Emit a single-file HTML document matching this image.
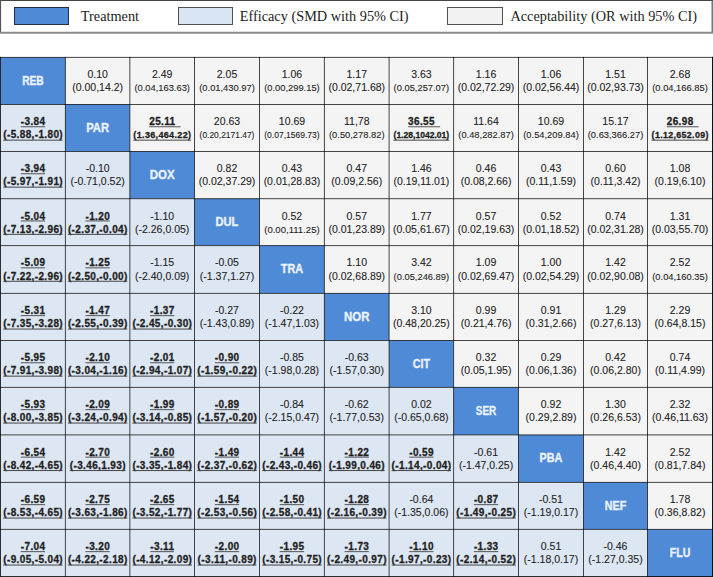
<!DOCTYPE html>
<html><head><meta charset="utf-8"><style>
html,body{margin:0;padding:0;background:#fff;width:713px;height:577px;overflow:hidden;position:relative;font-family:"Liberation Sans",sans-serif;}
</style></head><body>
<svg width="713" height="577" viewBox="0 0 713 577" style="position:absolute;left:0;top:0"><rect x="0" y="0" width="713" height="34" fill="#FFFFFF"/><line x1="0" y1="0.5" x2="713" y2="0.5" stroke="#444" stroke-width="1.2"/><line x1="0.5" y1="0" x2="0.5" y2="33" stroke="#555" stroke-width="1.2"/><line x1="712.2" y1="0" x2="712.2" y2="33" stroke="#555" stroke-width="1.2"/><line x1="0" y1="32.8" x2="713" y2="32.8" stroke="#8C8C8C" stroke-width="2"/><rect x="14.5" y="7.5" width="54" height="17" fill="#4F8AD6" stroke="#1F2F4A" stroke-width="1"/><rect x="178.5" y="7.5" width="54" height="17" fill="#DAE5F3" stroke="#505050" stroke-width="1"/><rect x="447.5" y="7.5" width="55" height="17" fill="#F2F2F2" stroke="#505050" stroke-width="1"/><text x="80.8" y="21" font-family="Liberation Serif" font-size="14.3" fill="#222">Treatment</text><text x="239.7" y="21" font-family="Liberation Serif" font-size="14.3" fill="#222">Efficacy (SMD with 95% CI)</text><text x="510.4" y="21" font-family="Liberation Serif" font-size="14.3" fill="#222">Acceptability (OR with 95% CI)</text><rect x="0.50" y="57.40" width="64.90" height="47.10" fill="#4F8AD6"/><rect x="65.40" y="57.40" width="64.45" height="47.10" fill="#F4F4F4"/><rect x="129.85" y="57.40" width="64.65" height="47.10" fill="#F4F4F4"/><rect x="194.50" y="57.40" width="65.00" height="47.10" fill="#F4F4F4"/><rect x="259.50" y="57.40" width="64.90" height="47.10" fill="#F4F4F4"/><rect x="324.40" y="57.40" width="64.70" height="47.10" fill="#F4F4F4"/><rect x="389.10" y="57.40" width="64.50" height="47.10" fill="#F4F4F4"/><rect x="453.60" y="57.40" width="64.90" height="47.10" fill="#F4F4F4"/><rect x="518.50" y="57.40" width="65.00" height="47.10" fill="#F4F4F4"/><rect x="583.50" y="57.40" width="64.00" height="47.10" fill="#F4F4F4"/><rect x="647.50" y="57.40" width="65.00" height="47.10" fill="#F4F4F4"/><rect x="0.50" y="104.50" width="64.90" height="47.00" fill="#DDE7F3"/><rect x="65.40" y="104.50" width="64.45" height="47.00" fill="#4F8AD6"/><rect x="129.85" y="104.50" width="64.65" height="47.00" fill="#F4F4F4"/><rect x="194.50" y="104.50" width="65.00" height="47.00" fill="#F4F4F4"/><rect x="259.50" y="104.50" width="64.90" height="47.00" fill="#F4F4F4"/><rect x="324.40" y="104.50" width="64.70" height="47.00" fill="#F4F4F4"/><rect x="389.10" y="104.50" width="64.50" height="47.00" fill="#F4F4F4"/><rect x="453.60" y="104.50" width="64.90" height="47.00" fill="#F4F4F4"/><rect x="518.50" y="104.50" width="65.00" height="47.00" fill="#F4F4F4"/><rect x="583.50" y="104.50" width="64.00" height="47.00" fill="#F4F4F4"/><rect x="647.50" y="104.50" width="65.00" height="47.00" fill="#F4F4F4"/><rect x="0.50" y="151.50" width="64.90" height="47.20" fill="#DDE7F3"/><rect x="65.40" y="151.50" width="64.45" height="47.20" fill="#DDE7F3"/><rect x="129.85" y="151.50" width="64.65" height="47.20" fill="#4F8AD6"/><rect x="194.50" y="151.50" width="65.00" height="47.20" fill="#F4F4F4"/><rect x="259.50" y="151.50" width="64.90" height="47.20" fill="#F4F4F4"/><rect x="324.40" y="151.50" width="64.70" height="47.20" fill="#F4F4F4"/><rect x="389.10" y="151.50" width="64.50" height="47.20" fill="#F4F4F4"/><rect x="453.60" y="151.50" width="64.90" height="47.20" fill="#F4F4F4"/><rect x="518.50" y="151.50" width="65.00" height="47.20" fill="#F4F4F4"/><rect x="583.50" y="151.50" width="64.00" height="47.20" fill="#F4F4F4"/><rect x="647.50" y="151.50" width="65.00" height="47.20" fill="#F4F4F4"/><rect x="0.50" y="198.70" width="64.90" height="46.90" fill="#DDE7F3"/><rect x="65.40" y="198.70" width="64.45" height="46.90" fill="#DDE7F3"/><rect x="129.85" y="198.70" width="64.65" height="46.90" fill="#DDE7F3"/><rect x="194.50" y="198.70" width="65.00" height="46.90" fill="#4F8AD6"/><rect x="259.50" y="198.70" width="64.90" height="46.90" fill="#F4F4F4"/><rect x="324.40" y="198.70" width="64.70" height="46.90" fill="#F4F4F4"/><rect x="389.10" y="198.70" width="64.50" height="46.90" fill="#F4F4F4"/><rect x="453.60" y="198.70" width="64.90" height="46.90" fill="#F4F4F4"/><rect x="518.50" y="198.70" width="65.00" height="46.90" fill="#F4F4F4"/><rect x="583.50" y="198.70" width="64.00" height="46.90" fill="#F4F4F4"/><rect x="647.50" y="198.70" width="65.00" height="46.90" fill="#F4F4F4"/><rect x="0.50" y="245.60" width="64.90" height="47.80" fill="#DDE7F3"/><rect x="65.40" y="245.60" width="64.45" height="47.80" fill="#DDE7F3"/><rect x="129.85" y="245.60" width="64.65" height="47.80" fill="#DDE7F3"/><rect x="194.50" y="245.60" width="65.00" height="47.80" fill="#DDE7F3"/><rect x="259.50" y="245.60" width="64.90" height="47.80" fill="#4F8AD6"/><rect x="324.40" y="245.60" width="64.70" height="47.80" fill="#F4F4F4"/><rect x="389.10" y="245.60" width="64.50" height="47.80" fill="#F4F4F4"/><rect x="453.60" y="245.60" width="64.90" height="47.80" fill="#F4F4F4"/><rect x="518.50" y="245.60" width="65.00" height="47.80" fill="#F4F4F4"/><rect x="583.50" y="245.60" width="64.00" height="47.80" fill="#F4F4F4"/><rect x="647.50" y="245.60" width="65.00" height="47.80" fill="#F4F4F4"/><rect x="0.50" y="293.40" width="64.90" height="47.10" fill="#DDE7F3"/><rect x="65.40" y="293.40" width="64.45" height="47.10" fill="#DDE7F3"/><rect x="129.85" y="293.40" width="64.65" height="47.10" fill="#DDE7F3"/><rect x="194.50" y="293.40" width="65.00" height="47.10" fill="#DDE7F3"/><rect x="259.50" y="293.40" width="64.90" height="47.10" fill="#DDE7F3"/><rect x="324.40" y="293.40" width="64.70" height="47.10" fill="#4F8AD6"/><rect x="389.10" y="293.40" width="64.50" height="47.10" fill="#F4F4F4"/><rect x="453.60" y="293.40" width="64.90" height="47.10" fill="#F4F4F4"/><rect x="518.50" y="293.40" width="65.00" height="47.10" fill="#F4F4F4"/><rect x="583.50" y="293.40" width="64.00" height="47.10" fill="#F4F4F4"/><rect x="647.50" y="293.40" width="65.00" height="47.10" fill="#F4F4F4"/><rect x="0.50" y="340.50" width="64.90" height="46.90" fill="#DDE7F3"/><rect x="65.40" y="340.50" width="64.45" height="46.90" fill="#DDE7F3"/><rect x="129.85" y="340.50" width="64.65" height="46.90" fill="#DDE7F3"/><rect x="194.50" y="340.50" width="65.00" height="46.90" fill="#DDE7F3"/><rect x="259.50" y="340.50" width="64.90" height="46.90" fill="#DDE7F3"/><rect x="324.40" y="340.50" width="64.70" height="46.90" fill="#DDE7F3"/><rect x="389.10" y="340.50" width="64.50" height="46.90" fill="#4F8AD6"/><rect x="453.60" y="340.50" width="64.90" height="46.90" fill="#F4F4F4"/><rect x="518.50" y="340.50" width="65.00" height="46.90" fill="#F4F4F4"/><rect x="583.50" y="340.50" width="64.00" height="46.90" fill="#F4F4F4"/><rect x="647.50" y="340.50" width="65.00" height="46.90" fill="#F4F4F4"/><rect x="0.50" y="387.40" width="64.90" height="47.50" fill="#DDE7F3"/><rect x="65.40" y="387.40" width="64.45" height="47.50" fill="#DDE7F3"/><rect x="129.85" y="387.40" width="64.65" height="47.50" fill="#DDE7F3"/><rect x="194.50" y="387.40" width="65.00" height="47.50" fill="#DDE7F3"/><rect x="259.50" y="387.40" width="64.90" height="47.50" fill="#DDE7F3"/><rect x="324.40" y="387.40" width="64.70" height="47.50" fill="#DDE7F3"/><rect x="389.10" y="387.40" width="64.50" height="47.50" fill="#DDE7F3"/><rect x="453.60" y="387.40" width="64.90" height="47.50" fill="#4F8AD6"/><rect x="518.50" y="387.40" width="65.00" height="47.50" fill="#F4F4F4"/><rect x="583.50" y="387.40" width="64.00" height="47.50" fill="#F4F4F4"/><rect x="647.50" y="387.40" width="65.00" height="47.50" fill="#F4F4F4"/><rect x="0.50" y="434.90" width="64.90" height="47.50" fill="#DDE7F3"/><rect x="65.40" y="434.90" width="64.45" height="47.50" fill="#DDE7F3"/><rect x="129.85" y="434.90" width="64.65" height="47.50" fill="#DDE7F3"/><rect x="194.50" y="434.90" width="65.00" height="47.50" fill="#DDE7F3"/><rect x="259.50" y="434.90" width="64.90" height="47.50" fill="#DDE7F3"/><rect x="324.40" y="434.90" width="64.70" height="47.50" fill="#DDE7F3"/><rect x="389.10" y="434.90" width="64.50" height="47.50" fill="#DDE7F3"/><rect x="453.60" y="434.90" width="64.90" height="47.50" fill="#DDE7F3"/><rect x="518.50" y="434.90" width="65.00" height="47.50" fill="#4F8AD6"/><rect x="583.50" y="434.90" width="64.00" height="47.50" fill="#F4F4F4"/><rect x="647.50" y="434.90" width="65.00" height="47.50" fill="#F4F4F4"/><rect x="0.50" y="482.40" width="64.90" height="47.00" fill="#DDE7F3"/><rect x="65.40" y="482.40" width="64.45" height="47.00" fill="#DDE7F3"/><rect x="129.85" y="482.40" width="64.65" height="47.00" fill="#DDE7F3"/><rect x="194.50" y="482.40" width="65.00" height="47.00" fill="#DDE7F3"/><rect x="259.50" y="482.40" width="64.90" height="47.00" fill="#DDE7F3"/><rect x="324.40" y="482.40" width="64.70" height="47.00" fill="#DDE7F3"/><rect x="389.10" y="482.40" width="64.50" height="47.00" fill="#DDE7F3"/><rect x="453.60" y="482.40" width="64.90" height="47.00" fill="#DDE7F3"/><rect x="518.50" y="482.40" width="65.00" height="47.00" fill="#DDE7F3"/><rect x="583.50" y="482.40" width="64.00" height="47.00" fill="#4F8AD6"/><rect x="647.50" y="482.40" width="65.00" height="47.00" fill="#F4F4F4"/><rect x="0.50" y="529.40" width="64.90" height="48.10" fill="#DDE7F3"/><rect x="65.40" y="529.40" width="64.45" height="48.10" fill="#DDE7F3"/><rect x="129.85" y="529.40" width="64.65" height="48.10" fill="#DDE7F3"/><rect x="194.50" y="529.40" width="65.00" height="48.10" fill="#DDE7F3"/><rect x="259.50" y="529.40" width="64.90" height="48.10" fill="#DDE7F3"/><rect x="324.40" y="529.40" width="64.70" height="48.10" fill="#DDE7F3"/><rect x="389.10" y="529.40" width="64.50" height="48.10" fill="#DDE7F3"/><rect x="453.60" y="529.40" width="64.90" height="48.10" fill="#DDE7F3"/><rect x="518.50" y="529.40" width="65.00" height="48.10" fill="#DDE7F3"/><rect x="583.50" y="529.40" width="64.00" height="48.10" fill="#DDE7F3"/><rect x="647.50" y="529.40" width="65.00" height="48.10" fill="#4F8AD6"/><line x1="0.50" y1="56.9" x2="0.50" y2="577" stroke="#000" stroke-opacity="0.72" stroke-width="1.0"/><line x1="65.40" y1="56.9" x2="65.40" y2="577" stroke="#000" stroke-opacity="0.72" stroke-width="1.0"/><line x1="129.85" y1="56.9" x2="129.85" y2="577" stroke="#000" stroke-opacity="0.72" stroke-width="1.0"/><line x1="194.50" y1="56.9" x2="194.50" y2="577" stroke="#000" stroke-opacity="0.72" stroke-width="1.0"/><line x1="259.50" y1="56.9" x2="259.50" y2="577" stroke="#000" stroke-opacity="0.72" stroke-width="1.0"/><line x1="324.40" y1="56.9" x2="324.40" y2="577" stroke="#000" stroke-opacity="0.72" stroke-width="1.0"/><line x1="389.10" y1="56.9" x2="389.10" y2="577" stroke="#000" stroke-opacity="0.72" stroke-width="1.0"/><line x1="453.60" y1="56.9" x2="453.60" y2="577" stroke="#000" stroke-opacity="0.72" stroke-width="1.0"/><line x1="518.50" y1="56.9" x2="518.50" y2="577" stroke="#000" stroke-opacity="0.72" stroke-width="1.0"/><line x1="583.50" y1="56.9" x2="583.50" y2="577" stroke="#000" stroke-opacity="0.72" stroke-width="1.0"/><line x1="647.50" y1="56.9" x2="647.50" y2="577" stroke="#000" stroke-opacity="0.72" stroke-width="1.0"/><line x1="712.50" y1="56.9" x2="712.50" y2="577" stroke="#000" stroke-opacity="0.72" stroke-width="1.0"/><line x1="0" y1="576.5" x2="713" y2="576.5" stroke="#000" stroke-opacity="0.8" stroke-width="1"/><line x1="712.5" y1="56.9" x2="712.5" y2="577" stroke="#111" stroke-width="1"/><line x1="0.5" y1="56.9" x2="0.5" y2="577" stroke="#222" stroke-opacity="0.6" stroke-width="1"/><line x1="0" y1="57.40" x2="713" y2="57.40" stroke="#000" stroke-opacity="0.72" stroke-width="1.0"/><line x1="0" y1="104.50" x2="713" y2="104.50" stroke="#000" stroke-opacity="0.72" stroke-width="1.0"/><line x1="0" y1="151.50" x2="713" y2="151.50" stroke="#000" stroke-opacity="0.72" stroke-width="1.0"/><line x1="0" y1="198.70" x2="713" y2="198.70" stroke="#000" stroke-opacity="0.72" stroke-width="1.0"/><line x1="0" y1="245.60" x2="713" y2="245.60" stroke="#000" stroke-opacity="0.72" stroke-width="1.0"/><line x1="0" y1="293.40" x2="713" y2="293.40" stroke="#000" stroke-opacity="0.72" stroke-width="1.0"/><line x1="0" y1="340.50" x2="713" y2="340.50" stroke="#000" stroke-opacity="0.72" stroke-width="1.0"/><line x1="0" y1="387.40" x2="713" y2="387.40" stroke="#000" stroke-opacity="0.72" stroke-width="1.0"/><line x1="0" y1="434.90" x2="713" y2="434.90" stroke="#000" stroke-opacity="0.72" stroke-width="1.0"/><line x1="0" y1="482.40" x2="713" y2="482.40" stroke="#000" stroke-opacity="0.72" stroke-width="1.0"/><line x1="0" y1="529.40" x2="713" y2="529.40" stroke="#000" stroke-opacity="0.72" stroke-width="1.0"/><text x="32.95" y="84.60" font-family="Liberation Sans" font-weight="bold" font-size="12.2" fill="#EAF2FB" stroke="#EAF2FB" stroke-width="0.35" text-anchor="middle" textLength="21.60" lengthAdjust="spacingAndGlyphs">REB</text><text x="97.62" y="78.20" font-family="Liberation Sans" font-size="10.5" fill="#1E1E1E" stroke="#1E1E1E" stroke-width="0.1" text-anchor="middle">0.10</text><text x="97.62" y="91.30" font-family="Liberation Sans" font-size="10.50" fill="#1E1E1E" stroke="#1E1E1E" stroke-width="0.1" text-anchor="middle">(0.00,14.2)</text><text x="162.18" y="78.20" font-family="Liberation Sans" font-size="10.5" fill="#1E1E1E" stroke="#1E1E1E" stroke-width="0.1" text-anchor="middle">2.49</text><text x="162.18" y="91.30" font-family="Liberation Sans" font-size="9.35" fill="#1E1E1E" stroke="#1E1E1E" stroke-width="0.1" text-anchor="middle">(0.04,163.63)</text><text x="227.00" y="78.20" font-family="Liberation Sans" font-size="10.5" fill="#1E1E1E" stroke="#1E1E1E" stroke-width="0.1" text-anchor="middle">2.05</text><text x="227.00" y="91.30" font-family="Liberation Sans" font-size="9.33" fill="#1E1E1E" stroke="#1E1E1E" stroke-width="0.1" text-anchor="middle">(0.01,430.97)</text><text x="291.95" y="78.20" font-family="Liberation Sans" font-size="10.5" fill="#1E1E1E" stroke="#1E1E1E" stroke-width="0.1" text-anchor="middle">1.06</text><text x="291.95" y="91.30" font-family="Liberation Sans" font-size="9.33" fill="#1E1E1E" stroke="#1E1E1E" stroke-width="0.1" text-anchor="middle">(0.00,299.15)</text><text x="356.75" y="78.20" font-family="Liberation Sans" font-size="10.5" fill="#1E1E1E" stroke="#1E1E1E" stroke-width="0.1" text-anchor="middle">1.17</text><text x="356.75" y="91.30" font-family="Liberation Sans" font-size="10.50" fill="#1E1E1E" stroke="#1E1E1E" stroke-width="0.1" text-anchor="middle">(0.02,71.68)</text><text x="421.35" y="78.20" font-family="Liberation Sans" font-size="10.5" fill="#1E1E1E" stroke="#1E1E1E" stroke-width="0.1" text-anchor="middle">3.63</text><text x="421.35" y="91.30" font-family="Liberation Sans" font-size="9.33" fill="#1E1E1E" stroke="#1E1E1E" stroke-width="0.1" text-anchor="middle">(0.05,257.07)</text><text x="486.05" y="78.20" font-family="Liberation Sans" font-size="10.5" fill="#1E1E1E" stroke="#1E1E1E" stroke-width="0.1" text-anchor="middle">1.16</text><text x="486.05" y="91.30" font-family="Liberation Sans" font-size="10.50" fill="#1E1E1E" stroke="#1E1E1E" stroke-width="0.1" text-anchor="middle">(0.02,72.29)</text><text x="551.00" y="78.20" font-family="Liberation Sans" font-size="10.5" fill="#1E1E1E" stroke="#1E1E1E" stroke-width="0.1" text-anchor="middle">1.06</text><text x="551.00" y="91.30" font-family="Liberation Sans" font-size="10.50" fill="#1E1E1E" stroke="#1E1E1E" stroke-width="0.1" text-anchor="middle">(0.02,56.44)</text><text x="615.50" y="78.20" font-family="Liberation Sans" font-size="10.5" fill="#1E1E1E" stroke="#1E1E1E" stroke-width="0.1" text-anchor="middle">1.51</text><text x="615.50" y="91.30" font-family="Liberation Sans" font-size="10.50" fill="#1E1E1E" stroke="#1E1E1E" stroke-width="0.1" text-anchor="middle">(0.02,93.73)</text><text x="680.00" y="78.20" font-family="Liberation Sans" font-size="10.5" fill="#1E1E1E" stroke="#1E1E1E" stroke-width="0.1" text-anchor="middle">2.68</text><text x="680.00" y="91.30" font-family="Liberation Sans" font-size="9.33" fill="#1E1E1E" stroke="#1E1E1E" stroke-width="0.1" text-anchor="middle">(0.04,166.85)</text><text x="32.95" y="125.30" font-family="Liberation Sans" font-weight="bold" font-size="10.0" fill="#1E1E1E" stroke="#1E1E1E" stroke-width="0.3" text-anchor="middle" textLength="24.27" lengthAdjust="spacing">-3.84</text><text x="32.95" y="138.40" font-family="Liberation Sans" font-weight="bold" font-size="10.00" fill="#1E1E1E" stroke="#1E1E1E" stroke-width="0.3" text-anchor="middle" textLength="59.46" lengthAdjust="spacing">(-5.88,-1.80)</text><line x1="20.81" y1="126.75" x2="45.09" y2="126.75" stroke="#444" stroke-width="0.9"/><line x1="3.22" y1="140.15" x2="62.68" y2="140.15" stroke="#444" stroke-width="1.0"/><text x="97.62" y="131.70" font-family="Liberation Sans" font-weight="bold" font-size="12.2" fill="#EAF2FB" stroke="#EAF2FB" stroke-width="0.35" text-anchor="middle" textLength="22.79" lengthAdjust="spacingAndGlyphs">PAR</text><text x="162.18" y="125.30" font-family="Liberation Sans" font-weight="bold" font-size="10.0" fill="#1E1E1E" stroke="#1E1E1E" stroke-width="0.3" text-anchor="middle" textLength="25.95" lengthAdjust="spacing">25.11</text><text x="162.18" y="138.40" font-family="Liberation Sans" font-weight="bold" font-size="9.03" fill="#1E1E1E" stroke="#1E1E1E" stroke-width="0.3" text-anchor="middle" textLength="57.70" lengthAdjust="spacing">(1.36,464.22)</text><line x1="149.20" y1="126.75" x2="180.65" y2="126.75" stroke="#444" stroke-width="0.9"/><line x1="133.33" y1="140.15" x2="191.03" y2="140.15" stroke="#444" stroke-width="1.0"/><text x="227.00" y="125.30" font-family="Liberation Sans" font-size="10.5" fill="#1E1E1E" stroke="#1E1E1E" stroke-width="0.1" text-anchor="middle">20.63</text><text x="227.00" y="138.40" font-family="Liberation Sans" font-size="8.90" fill="#1E1E1E" stroke="#1E1E1E" stroke-width="0.1" text-anchor="middle" textLength="54.80" lengthAdjust="spacingAndGlyphs">(0.20,2171.47)</text><text x="291.95" y="125.30" font-family="Liberation Sans" font-size="10.5" fill="#1E1E1E" stroke="#1E1E1E" stroke-width="0.1" text-anchor="middle">10.69</text><text x="291.95" y="138.40" font-family="Liberation Sans" font-size="8.90" fill="#1E1E1E" stroke="#1E1E1E" stroke-width="0.1" text-anchor="middle" textLength="55.50" lengthAdjust="spacingAndGlyphs">(0.07,1569.73)</text><text x="356.75" y="125.30" font-family="Liberation Sans" font-size="10.5" fill="#1E1E1E" stroke="#1E1E1E" stroke-width="0.1" text-anchor="middle">11,78</text><text x="356.75" y="138.40" font-family="Liberation Sans" font-size="9.33" fill="#1E1E1E" stroke="#1E1E1E" stroke-width="0.1" text-anchor="middle">(0.50,278.82)</text><text x="421.35" y="125.30" font-family="Liberation Sans" font-weight="bold" font-size="10.0" fill="#1E1E1E" stroke="#1E1E1E" stroke-width="0.3" text-anchor="middle" textLength="26.50" lengthAdjust="spacing">36.55</text><text x="421.35" y="138.40" font-family="Liberation Sans" font-weight="bold" font-size="8.80" fill="#1E1E1E" stroke="#1E1E1E" stroke-width="0.3" text-anchor="middle" textLength="55.60" lengthAdjust="spacingAndGlyphs">(1.28,1042.01)</text><line x1="408.10" y1="126.75" x2="440.10" y2="126.75" stroke="#444" stroke-width="0.9"/><line x1="393.55" y1="140.15" x2="449.15" y2="140.15" stroke="#444" stroke-width="1.0"/><text x="486.05" y="125.30" font-family="Liberation Sans" font-size="10.5" fill="#1E1E1E" stroke="#1E1E1E" stroke-width="0.1" text-anchor="middle">11.64</text><text x="486.05" y="138.40" font-family="Liberation Sans" font-size="9.33" fill="#1E1E1E" stroke="#1E1E1E" stroke-width="0.1" text-anchor="middle">(0.48,282.87)</text><text x="551.00" y="125.30" font-family="Liberation Sans" font-size="10.5" fill="#1E1E1E" stroke="#1E1E1E" stroke-width="0.1" text-anchor="middle">10.69</text><text x="551.00" y="138.40" font-family="Liberation Sans" font-size="9.33" fill="#1E1E1E" stroke="#1E1E1E" stroke-width="0.1" text-anchor="middle">(0.54,209.84)</text><text x="615.50" y="125.30" font-family="Liberation Sans" font-size="10.5" fill="#1E1E1E" stroke="#1E1E1E" stroke-width="0.1" text-anchor="middle">15.17</text><text x="615.50" y="138.40" font-family="Liberation Sans" font-size="9.33" fill="#1E1E1E" stroke="#1E1E1E" stroke-width="0.1" text-anchor="middle">(0.63,366.27)</text><text x="680.00" y="125.30" font-family="Liberation Sans" font-weight="bold" font-size="10.0" fill="#1E1E1E" stroke="#1E1E1E" stroke-width="0.3" text-anchor="middle" textLength="26.50" lengthAdjust="spacing">26.98</text><text x="680.00" y="138.40" font-family="Liberation Sans" font-weight="bold" font-size="8.89" fill="#1E1E1E" stroke="#1E1E1E" stroke-width="0.3" text-anchor="middle" textLength="56.80" lengthAdjust="spacing">(1.12,652.09)</text><line x1="666.75" y1="126.75" x2="698.75" y2="126.75" stroke="#444" stroke-width="0.9"/><line x1="651.60" y1="140.15" x2="708.40" y2="140.15" stroke="#444" stroke-width="1.0"/><text x="32.95" y="172.30" font-family="Liberation Sans" font-weight="bold" font-size="10.0" fill="#1E1E1E" stroke="#1E1E1E" stroke-width="0.3" text-anchor="middle" textLength="24.27" lengthAdjust="spacing">-3.94</text><text x="32.95" y="185.40" font-family="Liberation Sans" font-weight="bold" font-size="10.00" fill="#1E1E1E" stroke="#1E1E1E" stroke-width="0.3" text-anchor="middle" textLength="59.46" lengthAdjust="spacing">(-5.97,-1.91)</text><line x1="20.81" y1="173.75" x2="45.09" y2="173.75" stroke="#444" stroke-width="0.9"/><line x1="3.22" y1="187.15" x2="62.68" y2="187.15" stroke="#444" stroke-width="1.0"/><text x="97.62" y="172.30" font-family="Liberation Sans" font-size="10.5" fill="#1E1E1E" stroke="#1E1E1E" stroke-width="0.1" text-anchor="middle">-0.10</text><text x="97.62" y="185.40" font-family="Liberation Sans" font-size="10.50" fill="#1E1E1E" stroke="#1E1E1E" stroke-width="0.1" text-anchor="middle">(-0.71,0.52)</text><text x="162.18" y="178.70" font-family="Liberation Sans" font-weight="bold" font-size="12.2" fill="#EAF2FB" stroke="#EAF2FB" stroke-width="0.35" text-anchor="middle" textLength="24.88" lengthAdjust="spacingAndGlyphs">DOX</text><text x="227.00" y="172.30" font-family="Liberation Sans" font-size="10.5" fill="#1E1E1E" stroke="#1E1E1E" stroke-width="0.1" text-anchor="middle">0.82</text><text x="227.00" y="185.40" font-family="Liberation Sans" font-size="10.50" fill="#1E1E1E" stroke="#1E1E1E" stroke-width="0.1" text-anchor="middle">(0.02,37.29)</text><text x="291.95" y="172.30" font-family="Liberation Sans" font-size="10.5" fill="#1E1E1E" stroke="#1E1E1E" stroke-width="0.1" text-anchor="middle">0.43</text><text x="291.95" y="185.40" font-family="Liberation Sans" font-size="10.50" fill="#1E1E1E" stroke="#1E1E1E" stroke-width="0.1" text-anchor="middle">(0.01,28.83)</text><text x="356.75" y="172.30" font-family="Liberation Sans" font-size="10.5" fill="#1E1E1E" stroke="#1E1E1E" stroke-width="0.1" text-anchor="middle">0.47</text><text x="356.75" y="185.40" font-family="Liberation Sans" font-size="10.50" fill="#1E1E1E" stroke="#1E1E1E" stroke-width="0.1" text-anchor="middle">(0.09,2.56)</text><text x="421.35" y="172.30" font-family="Liberation Sans" font-size="10.5" fill="#1E1E1E" stroke="#1E1E1E" stroke-width="0.1" text-anchor="middle">1.46</text><text x="421.35" y="185.40" font-family="Liberation Sans" font-size="10.50" fill="#1E1E1E" stroke="#1E1E1E" stroke-width="0.1" text-anchor="middle">(0.19,11.01)</text><text x="486.05" y="172.30" font-family="Liberation Sans" font-size="10.5" fill="#1E1E1E" stroke="#1E1E1E" stroke-width="0.1" text-anchor="middle">0.46</text><text x="486.05" y="185.40" font-family="Liberation Sans" font-size="10.50" fill="#1E1E1E" stroke="#1E1E1E" stroke-width="0.1" text-anchor="middle">(0.08,2.66)</text><text x="551.00" y="172.30" font-family="Liberation Sans" font-size="10.5" fill="#1E1E1E" stroke="#1E1E1E" stroke-width="0.1" text-anchor="middle">0.43</text><text x="551.00" y="185.40" font-family="Liberation Sans" font-size="10.50" fill="#1E1E1E" stroke="#1E1E1E" stroke-width="0.1" text-anchor="middle">(0.11,1.59)</text><text x="615.50" y="172.30" font-family="Liberation Sans" font-size="10.5" fill="#1E1E1E" stroke="#1E1E1E" stroke-width="0.1" text-anchor="middle">0.60</text><text x="615.50" y="185.40" font-family="Liberation Sans" font-size="10.50" fill="#1E1E1E" stroke="#1E1E1E" stroke-width="0.1" text-anchor="middle">(0.11,3.42)</text><text x="680.00" y="172.30" font-family="Liberation Sans" font-size="10.5" fill="#1E1E1E" stroke="#1E1E1E" stroke-width="0.1" text-anchor="middle">1.08</text><text x="680.00" y="185.40" font-family="Liberation Sans" font-size="10.50" fill="#1E1E1E" stroke="#1E1E1E" stroke-width="0.1" text-anchor="middle">(0.19,6.10)</text><text x="32.95" y="219.50" font-family="Liberation Sans" font-weight="bold" font-size="10.0" fill="#1E1E1E" stroke="#1E1E1E" stroke-width="0.3" text-anchor="middle" textLength="24.27" lengthAdjust="spacing">-5.04</text><text x="32.95" y="232.60" font-family="Liberation Sans" font-weight="bold" font-size="10.00" fill="#1E1E1E" stroke="#1E1E1E" stroke-width="0.3" text-anchor="middle" textLength="59.46" lengthAdjust="spacing">(-7.13,-2.96)</text><line x1="20.81" y1="220.95" x2="45.09" y2="220.95" stroke="#444" stroke-width="0.9"/><line x1="3.22" y1="234.35" x2="62.68" y2="234.35" stroke="#444" stroke-width="1.0"/><text x="97.62" y="219.50" font-family="Liberation Sans" font-weight="bold" font-size="10.0" fill="#1E1E1E" stroke="#1E1E1E" stroke-width="0.3" text-anchor="middle" textLength="24.27" lengthAdjust="spacing">-1.20</text><text x="97.62" y="232.60" font-family="Liberation Sans" font-weight="bold" font-size="10.00" fill="#1E1E1E" stroke="#1E1E1E" stroke-width="0.3" text-anchor="middle" textLength="59.46" lengthAdjust="spacing">(-2.37,-0.04)</text><line x1="85.49" y1="220.95" x2="109.76" y2="220.95" stroke="#444" stroke-width="0.9"/><line x1="67.90" y1="234.35" x2="127.35" y2="234.35" stroke="#444" stroke-width="1.0"/><text x="162.18" y="219.50" font-family="Liberation Sans" font-size="10.5" fill="#1E1E1E" stroke="#1E1E1E" stroke-width="0.1" text-anchor="middle">-1.10</text><text x="162.18" y="232.60" font-family="Liberation Sans" font-size="10.50" fill="#1E1E1E" stroke="#1E1E1E" stroke-width="0.1" text-anchor="middle">(-2.26,0.05)</text><text x="227.00" y="225.90" font-family="Liberation Sans" font-weight="bold" font-size="12.2" fill="#EAF2FB" stroke="#EAF2FB" stroke-width="0.35" text-anchor="middle" textLength="22.86" lengthAdjust="spacingAndGlyphs">DUL</text><text x="291.95" y="219.50" font-family="Liberation Sans" font-size="10.5" fill="#1E1E1E" stroke="#1E1E1E" stroke-width="0.1" text-anchor="middle">0.52</text><text x="291.95" y="232.60" font-family="Liberation Sans" font-size="9.57" fill="#1E1E1E" stroke="#1E1E1E" stroke-width="0.1" text-anchor="middle">(0.00,111.25)</text><text x="356.75" y="219.50" font-family="Liberation Sans" font-size="10.5" fill="#1E1E1E" stroke="#1E1E1E" stroke-width="0.1" text-anchor="middle">0.57</text><text x="356.75" y="232.60" font-family="Liberation Sans" font-size="10.50" fill="#1E1E1E" stroke="#1E1E1E" stroke-width="0.1" text-anchor="middle">(0.01,23.89)</text><text x="421.35" y="219.50" font-family="Liberation Sans" font-size="10.5" fill="#1E1E1E" stroke="#1E1E1E" stroke-width="0.1" text-anchor="middle">1.77</text><text x="421.35" y="232.60" font-family="Liberation Sans" font-size="10.50" fill="#1E1E1E" stroke="#1E1E1E" stroke-width="0.1" text-anchor="middle">(0.05,61.67)</text><text x="486.05" y="219.50" font-family="Liberation Sans" font-size="10.5" fill="#1E1E1E" stroke="#1E1E1E" stroke-width="0.1" text-anchor="middle">0.57</text><text x="486.05" y="232.60" font-family="Liberation Sans" font-size="10.50" fill="#1E1E1E" stroke="#1E1E1E" stroke-width="0.1" text-anchor="middle">(0.02,19.63)</text><text x="551.00" y="219.50" font-family="Liberation Sans" font-size="10.5" fill="#1E1E1E" stroke="#1E1E1E" stroke-width="0.1" text-anchor="middle">0.52</text><text x="551.00" y="232.60" font-family="Liberation Sans" font-size="10.50" fill="#1E1E1E" stroke="#1E1E1E" stroke-width="0.1" text-anchor="middle">(0.01,18.52)</text><text x="615.50" y="219.50" font-family="Liberation Sans" font-size="10.5" fill="#1E1E1E" stroke="#1E1E1E" stroke-width="0.1" text-anchor="middle">0.74</text><text x="615.50" y="232.60" font-family="Liberation Sans" font-size="10.50" fill="#1E1E1E" stroke="#1E1E1E" stroke-width="0.1" text-anchor="middle">(0.02,31.28)</text><text x="680.00" y="219.50" font-family="Liberation Sans" font-size="10.5" fill="#1E1E1E" stroke="#1E1E1E" stroke-width="0.1" text-anchor="middle">1.31</text><text x="680.00" y="232.60" font-family="Liberation Sans" font-size="10.50" fill="#1E1E1E" stroke="#1E1E1E" stroke-width="0.1" text-anchor="middle">(0.03,55.70)</text><text x="32.95" y="266.40" font-family="Liberation Sans" font-weight="bold" font-size="10.0" fill="#1E1E1E" stroke="#1E1E1E" stroke-width="0.3" text-anchor="middle" textLength="24.27" lengthAdjust="spacing">-5.09</text><text x="32.95" y="279.50" font-family="Liberation Sans" font-weight="bold" font-size="10.00" fill="#1E1E1E" stroke="#1E1E1E" stroke-width="0.3" text-anchor="middle" textLength="59.46" lengthAdjust="spacing">(-7.22,-2.96)</text><line x1="20.81" y1="267.85" x2="45.09" y2="267.85" stroke="#444" stroke-width="0.9"/><line x1="3.22" y1="281.25" x2="62.68" y2="281.25" stroke="#444" stroke-width="1.0"/><text x="97.62" y="266.40" font-family="Liberation Sans" font-weight="bold" font-size="10.0" fill="#1E1E1E" stroke="#1E1E1E" stroke-width="0.3" text-anchor="middle" textLength="24.27" lengthAdjust="spacing">-1.25</text><text x="97.62" y="279.50" font-family="Liberation Sans" font-weight="bold" font-size="10.00" fill="#1E1E1E" stroke="#1E1E1E" stroke-width="0.3" text-anchor="middle" textLength="59.46" lengthAdjust="spacing">(-2.50,-0.00)</text><line x1="85.49" y1="267.85" x2="109.76" y2="267.85" stroke="#444" stroke-width="0.9"/><line x1="67.90" y1="281.25" x2="127.35" y2="281.25" stroke="#444" stroke-width="1.0"/><text x="162.18" y="266.40" font-family="Liberation Sans" font-size="10.5" fill="#1E1E1E" stroke="#1E1E1E" stroke-width="0.1" text-anchor="middle">-1.15</text><text x="162.18" y="279.50" font-family="Liberation Sans" font-size="10.50" fill="#1E1E1E" stroke="#1E1E1E" stroke-width="0.1" text-anchor="middle">(-2.40,0.09)</text><text x="227.00" y="266.40" font-family="Liberation Sans" font-size="10.5" fill="#1E1E1E" stroke="#1E1E1E" stroke-width="0.1" text-anchor="middle">-0.05</text><text x="227.00" y="279.50" font-family="Liberation Sans" font-size="10.50" fill="#1E1E1E" stroke="#1E1E1E" stroke-width="0.1" text-anchor="middle">(-1.37,1.27)</text><text x="291.95" y="272.80" font-family="Liberation Sans" font-weight="bold" font-size="12.2" fill="#EAF2FB" stroke="#EAF2FB" stroke-width="0.35" text-anchor="middle" textLength="22.30" lengthAdjust="spacingAndGlyphs">TRA</text><text x="356.75" y="266.40" font-family="Liberation Sans" font-size="10.5" fill="#1E1E1E" stroke="#1E1E1E" stroke-width="0.1" text-anchor="middle">1.10</text><text x="356.75" y="279.50" font-family="Liberation Sans" font-size="10.50" fill="#1E1E1E" stroke="#1E1E1E" stroke-width="0.1" text-anchor="middle">(0.02,68.89)</text><text x="421.35" y="266.40" font-family="Liberation Sans" font-size="10.5" fill="#1E1E1E" stroke="#1E1E1E" stroke-width="0.1" text-anchor="middle">3.42</text><text x="421.35" y="279.50" font-family="Liberation Sans" font-size="9.33" fill="#1E1E1E" stroke="#1E1E1E" stroke-width="0.1" text-anchor="middle">(0.05,246.89)</text><text x="486.05" y="266.40" font-family="Liberation Sans" font-size="10.5" fill="#1E1E1E" stroke="#1E1E1E" stroke-width="0.1" text-anchor="middle">1.09</text><text x="486.05" y="279.50" font-family="Liberation Sans" font-size="10.50" fill="#1E1E1E" stroke="#1E1E1E" stroke-width="0.1" text-anchor="middle">(0.02,69.47)</text><text x="551.00" y="266.40" font-family="Liberation Sans" font-size="10.5" fill="#1E1E1E" stroke="#1E1E1E" stroke-width="0.1" text-anchor="middle">1.00</text><text x="551.00" y="279.50" font-family="Liberation Sans" font-size="10.50" fill="#1E1E1E" stroke="#1E1E1E" stroke-width="0.1" text-anchor="middle">(0.02,54.29)</text><text x="615.50" y="266.40" font-family="Liberation Sans" font-size="10.5" fill="#1E1E1E" stroke="#1E1E1E" stroke-width="0.1" text-anchor="middle">1.42</text><text x="615.50" y="279.50" font-family="Liberation Sans" font-size="10.50" fill="#1E1E1E" stroke="#1E1E1E" stroke-width="0.1" text-anchor="middle">(0.02,90.08)</text><text x="680.00" y="266.40" font-family="Liberation Sans" font-size="10.5" fill="#1E1E1E" stroke="#1E1E1E" stroke-width="0.1" text-anchor="middle">2.52</text><text x="680.00" y="279.50" font-family="Liberation Sans" font-size="9.33" fill="#1E1E1E" stroke="#1E1E1E" stroke-width="0.1" text-anchor="middle">(0.04,160.35)</text><text x="32.95" y="314.20" font-family="Liberation Sans" font-weight="bold" font-size="10.0" fill="#1E1E1E" stroke="#1E1E1E" stroke-width="0.3" text-anchor="middle" textLength="24.27" lengthAdjust="spacing">-5.31</text><text x="32.95" y="327.30" font-family="Liberation Sans" font-weight="bold" font-size="10.00" fill="#1E1E1E" stroke="#1E1E1E" stroke-width="0.3" text-anchor="middle" textLength="59.46" lengthAdjust="spacing">(-7.35,-3.28)</text><line x1="20.81" y1="315.65" x2="45.09" y2="315.65" stroke="#444" stroke-width="0.9"/><line x1="3.22" y1="329.05" x2="62.68" y2="329.05" stroke="#444" stroke-width="1.0"/><text x="97.62" y="314.20" font-family="Liberation Sans" font-weight="bold" font-size="10.0" fill="#1E1E1E" stroke="#1E1E1E" stroke-width="0.3" text-anchor="middle" textLength="24.27" lengthAdjust="spacing">-1.47</text><text x="97.62" y="327.30" font-family="Liberation Sans" font-weight="bold" font-size="10.00" fill="#1E1E1E" stroke="#1E1E1E" stroke-width="0.3" text-anchor="middle" textLength="59.46" lengthAdjust="spacing">(-2.55,-0.39)</text><line x1="85.49" y1="315.65" x2="109.76" y2="315.65" stroke="#444" stroke-width="0.9"/><line x1="67.90" y1="329.05" x2="127.35" y2="329.05" stroke="#444" stroke-width="1.0"/><text x="162.18" y="314.20" font-family="Liberation Sans" font-weight="bold" font-size="10.0" fill="#1E1E1E" stroke="#1E1E1E" stroke-width="0.3" text-anchor="middle" textLength="24.27" lengthAdjust="spacing">-1.37</text><text x="162.18" y="327.30" font-family="Liberation Sans" font-weight="bold" font-size="10.00" fill="#1E1E1E" stroke="#1E1E1E" stroke-width="0.3" text-anchor="middle" textLength="59.46" lengthAdjust="spacing">(-2.45,-0.30)</text><line x1="150.04" y1="315.65" x2="174.31" y2="315.65" stroke="#444" stroke-width="0.9"/><line x1="132.45" y1="329.05" x2="191.90" y2="329.05" stroke="#444" stroke-width="1.0"/><text x="227.00" y="314.20" font-family="Liberation Sans" font-size="10.5" fill="#1E1E1E" stroke="#1E1E1E" stroke-width="0.1" text-anchor="middle">-0.27</text><text x="227.00" y="327.30" font-family="Liberation Sans" font-size="10.50" fill="#1E1E1E" stroke="#1E1E1E" stroke-width="0.1" text-anchor="middle">(-1.43,0.89)</text><text x="291.95" y="314.20" font-family="Liberation Sans" font-size="10.5" fill="#1E1E1E" stroke="#1E1E1E" stroke-width="0.1" text-anchor="middle">-0.22</text><text x="291.95" y="327.30" font-family="Liberation Sans" font-size="10.50" fill="#1E1E1E" stroke="#1E1E1E" stroke-width="0.1" text-anchor="middle">(-1.47,1.03)</text><text x="356.75" y="320.60" font-family="Liberation Sans" font-weight="bold" font-size="12.2" fill="#EAF2FB" stroke="#EAF2FB" stroke-width="0.35" text-anchor="middle" textLength="25.43" lengthAdjust="spacingAndGlyphs">NOR</text><text x="421.35" y="314.20" font-family="Liberation Sans" font-size="10.5" fill="#1E1E1E" stroke="#1E1E1E" stroke-width="0.1" text-anchor="middle">3.10</text><text x="421.35" y="327.30" font-family="Liberation Sans" font-size="10.50" fill="#1E1E1E" stroke="#1E1E1E" stroke-width="0.1" text-anchor="middle">(0.48,20.25)</text><text x="486.05" y="314.20" font-family="Liberation Sans" font-size="10.5" fill="#1E1E1E" stroke="#1E1E1E" stroke-width="0.1" text-anchor="middle">0.99</text><text x="486.05" y="327.30" font-family="Liberation Sans" font-size="10.50" fill="#1E1E1E" stroke="#1E1E1E" stroke-width="0.1" text-anchor="middle">(0.21,4.76)</text><text x="551.00" y="314.20" font-family="Liberation Sans" font-size="10.5" fill="#1E1E1E" stroke="#1E1E1E" stroke-width="0.1" text-anchor="middle">0.91</text><text x="551.00" y="327.30" font-family="Liberation Sans" font-size="10.50" fill="#1E1E1E" stroke="#1E1E1E" stroke-width="0.1" text-anchor="middle">(0.31,2.66)</text><text x="615.50" y="314.20" font-family="Liberation Sans" font-size="10.5" fill="#1E1E1E" stroke="#1E1E1E" stroke-width="0.1" text-anchor="middle">1.29</text><text x="615.50" y="327.30" font-family="Liberation Sans" font-size="10.50" fill="#1E1E1E" stroke="#1E1E1E" stroke-width="0.1" text-anchor="middle">(0.27,6.13)</text><text x="680.00" y="314.20" font-family="Liberation Sans" font-size="10.5" fill="#1E1E1E" stroke="#1E1E1E" stroke-width="0.1" text-anchor="middle">2.29</text><text x="680.00" y="327.30" font-family="Liberation Sans" font-size="10.50" fill="#1E1E1E" stroke="#1E1E1E" stroke-width="0.1" text-anchor="middle">(0.64,8.15)</text><text x="32.95" y="361.30" font-family="Liberation Sans" font-weight="bold" font-size="10.0" fill="#1E1E1E" stroke="#1E1E1E" stroke-width="0.3" text-anchor="middle" textLength="24.27" lengthAdjust="spacing">-5.95</text><text x="32.95" y="374.40" font-family="Liberation Sans" font-weight="bold" font-size="10.00" fill="#1E1E1E" stroke="#1E1E1E" stroke-width="0.3" text-anchor="middle" textLength="59.46" lengthAdjust="spacing">(-7.91,-3.98)</text><line x1="20.81" y1="362.75" x2="45.09" y2="362.75" stroke="#444" stroke-width="0.9"/><line x1="3.22" y1="376.15" x2="62.68" y2="376.15" stroke="#444" stroke-width="1.0"/><text x="97.62" y="361.30" font-family="Liberation Sans" font-weight="bold" font-size="10.0" fill="#1E1E1E" stroke="#1E1E1E" stroke-width="0.3" text-anchor="middle" textLength="24.27" lengthAdjust="spacing">-2.10</text><text x="97.62" y="374.40" font-family="Liberation Sans" font-weight="bold" font-size="10.00" fill="#1E1E1E" stroke="#1E1E1E" stroke-width="0.3" text-anchor="middle" textLength="59.46" lengthAdjust="spacing">(-3.04,-1.16)</text><line x1="85.49" y1="362.75" x2="109.76" y2="362.75" stroke="#444" stroke-width="0.9"/><line x1="67.90" y1="376.15" x2="127.35" y2="376.15" stroke="#444" stroke-width="1.0"/><text x="162.18" y="361.30" font-family="Liberation Sans" font-weight="bold" font-size="10.0" fill="#1E1E1E" stroke="#1E1E1E" stroke-width="0.3" text-anchor="middle" textLength="24.27" lengthAdjust="spacing">-2.01</text><text x="162.18" y="374.40" font-family="Liberation Sans" font-weight="bold" font-size="10.00" fill="#1E1E1E" stroke="#1E1E1E" stroke-width="0.3" text-anchor="middle" textLength="59.46" lengthAdjust="spacing">(-2.94,-1.07)</text><line x1="150.04" y1="362.75" x2="174.31" y2="362.75" stroke="#444" stroke-width="0.9"/><line x1="132.45" y1="376.15" x2="191.90" y2="376.15" stroke="#444" stroke-width="1.0"/><text x="227.00" y="361.30" font-family="Liberation Sans" font-weight="bold" font-size="10.0" fill="#1E1E1E" stroke="#1E1E1E" stroke-width="0.3" text-anchor="middle" textLength="24.27" lengthAdjust="spacing">-0.90</text><text x="227.00" y="374.40" font-family="Liberation Sans" font-weight="bold" font-size="10.00" fill="#1E1E1E" stroke="#1E1E1E" stroke-width="0.3" text-anchor="middle" textLength="59.46" lengthAdjust="spacing">(-1.59,-0.22)</text><line x1="214.86" y1="362.75" x2="239.14" y2="362.75" stroke="#444" stroke-width="0.9"/><line x1="197.27" y1="376.15" x2="256.73" y2="376.15" stroke="#444" stroke-width="1.0"/><text x="291.95" y="361.30" font-family="Liberation Sans" font-size="10.5" fill="#1E1E1E" stroke="#1E1E1E" stroke-width="0.1" text-anchor="middle">-0.85</text><text x="291.95" y="374.40" font-family="Liberation Sans" font-size="10.50" fill="#1E1E1E" stroke="#1E1E1E" stroke-width="0.1" text-anchor="middle">(-1.98,0.28)</text><text x="356.75" y="361.30" font-family="Liberation Sans" font-size="10.5" fill="#1E1E1E" stroke="#1E1E1E" stroke-width="0.1" text-anchor="middle">-0.63</text><text x="356.75" y="374.40" font-family="Liberation Sans" font-size="10.50" fill="#1E1E1E" stroke="#1E1E1E" stroke-width="0.1" text-anchor="middle">(-1.57,0.30)</text><text x="421.35" y="367.70" font-family="Liberation Sans" font-weight="bold" font-size="12.2" fill="#EAF2FB" stroke="#EAF2FB" stroke-width="0.35" text-anchor="middle" textLength="17.30" lengthAdjust="spacingAndGlyphs">CIT</text><text x="486.05" y="361.30" font-family="Liberation Sans" font-size="10.5" fill="#1E1E1E" stroke="#1E1E1E" stroke-width="0.1" text-anchor="middle">0.32</text><text x="486.05" y="374.40" font-family="Liberation Sans" font-size="10.50" fill="#1E1E1E" stroke="#1E1E1E" stroke-width="0.1" text-anchor="middle">(0.05,1.95)</text><text x="551.00" y="361.30" font-family="Liberation Sans" font-size="10.5" fill="#1E1E1E" stroke="#1E1E1E" stroke-width="0.1" text-anchor="middle">0.29</text><text x="551.00" y="374.40" font-family="Liberation Sans" font-size="10.50" fill="#1E1E1E" stroke="#1E1E1E" stroke-width="0.1" text-anchor="middle">(0.06,1.36)</text><text x="615.50" y="361.30" font-family="Liberation Sans" font-size="10.5" fill="#1E1E1E" stroke="#1E1E1E" stroke-width="0.1" text-anchor="middle">0.42</text><text x="615.50" y="374.40" font-family="Liberation Sans" font-size="10.50" fill="#1E1E1E" stroke="#1E1E1E" stroke-width="0.1" text-anchor="middle">(0.06,2.80)</text><text x="680.00" y="361.30" font-family="Liberation Sans" font-size="10.5" fill="#1E1E1E" stroke="#1E1E1E" stroke-width="0.1" text-anchor="middle">0.74</text><text x="680.00" y="374.40" font-family="Liberation Sans" font-size="10.50" fill="#1E1E1E" stroke="#1E1E1E" stroke-width="0.1" text-anchor="middle">(0.11,4.99)</text><text x="32.95" y="408.20" font-family="Liberation Sans" font-weight="bold" font-size="10.0" fill="#1E1E1E" stroke="#1E1E1E" stroke-width="0.3" text-anchor="middle" textLength="24.27" lengthAdjust="spacing">-5.93</text><text x="32.95" y="421.30" font-family="Liberation Sans" font-weight="bold" font-size="10.00" fill="#1E1E1E" stroke="#1E1E1E" stroke-width="0.3" text-anchor="middle" textLength="59.46" lengthAdjust="spacing">(-8.00,-3.85)</text><line x1="20.81" y1="409.65" x2="45.09" y2="409.65" stroke="#444" stroke-width="0.9"/><line x1="3.22" y1="423.05" x2="62.68" y2="423.05" stroke="#444" stroke-width="1.0"/><text x="97.62" y="408.20" font-family="Liberation Sans" font-weight="bold" font-size="10.0" fill="#1E1E1E" stroke="#1E1E1E" stroke-width="0.3" text-anchor="middle" textLength="24.27" lengthAdjust="spacing">-2.09</text><text x="97.62" y="421.30" font-family="Liberation Sans" font-weight="bold" font-size="10.00" fill="#1E1E1E" stroke="#1E1E1E" stroke-width="0.3" text-anchor="middle" textLength="59.46" lengthAdjust="spacing">(-3.24,-0.94)</text><line x1="85.49" y1="409.65" x2="109.76" y2="409.65" stroke="#444" stroke-width="0.9"/><line x1="67.90" y1="423.05" x2="127.35" y2="423.05" stroke="#444" stroke-width="1.0"/><text x="162.18" y="408.20" font-family="Liberation Sans" font-weight="bold" font-size="10.0" fill="#1E1E1E" stroke="#1E1E1E" stroke-width="0.3" text-anchor="middle" textLength="24.27" lengthAdjust="spacing">-1.99</text><text x="162.18" y="421.30" font-family="Liberation Sans" font-weight="bold" font-size="10.00" fill="#1E1E1E" stroke="#1E1E1E" stroke-width="0.3" text-anchor="middle" textLength="59.46" lengthAdjust="spacing">(-3.14,-0.85)</text><line x1="150.04" y1="409.65" x2="174.31" y2="409.65" stroke="#444" stroke-width="0.9"/><line x1="132.45" y1="423.05" x2="191.90" y2="423.05" stroke="#444" stroke-width="1.0"/><text x="227.00" y="408.20" font-family="Liberation Sans" font-weight="bold" font-size="10.0" fill="#1E1E1E" stroke="#1E1E1E" stroke-width="0.3" text-anchor="middle" textLength="24.27" lengthAdjust="spacing">-0.89</text><text x="227.00" y="421.30" font-family="Liberation Sans" font-weight="bold" font-size="10.00" fill="#1E1E1E" stroke="#1E1E1E" stroke-width="0.3" text-anchor="middle" textLength="59.46" lengthAdjust="spacing">(-1.57,-0.20)</text><line x1="214.86" y1="409.65" x2="239.14" y2="409.65" stroke="#444" stroke-width="0.9"/><line x1="197.27" y1="423.05" x2="256.73" y2="423.05" stroke="#444" stroke-width="1.0"/><text x="291.95" y="408.20" font-family="Liberation Sans" font-size="10.5" fill="#1E1E1E" stroke="#1E1E1E" stroke-width="0.1" text-anchor="middle">-0.84</text><text x="291.95" y="421.30" font-family="Liberation Sans" font-size="10.50" fill="#1E1E1E" stroke="#1E1E1E" stroke-width="0.1" text-anchor="middle">(-2.15,0.47)</text><text x="356.75" y="408.20" font-family="Liberation Sans" font-size="10.5" fill="#1E1E1E" stroke="#1E1E1E" stroke-width="0.1" text-anchor="middle">-0.62</text><text x="356.75" y="421.30" font-family="Liberation Sans" font-size="10.50" fill="#1E1E1E" stroke="#1E1E1E" stroke-width="0.1" text-anchor="middle">(-1.77,0.53)</text><text x="421.35" y="408.20" font-family="Liberation Sans" font-size="10.5" fill="#1E1E1E" stroke="#1E1E1E" stroke-width="0.1" text-anchor="middle">0.02</text><text x="421.35" y="421.30" font-family="Liberation Sans" font-size="10.50" fill="#1E1E1E" stroke="#1E1E1E" stroke-width="0.1" text-anchor="middle">(-0.65,0.68)</text><text x="486.05" y="414.60" font-family="Liberation Sans" font-weight="bold" font-size="12.2" fill="#EAF2FB" stroke="#EAF2FB" stroke-width="0.35" text-anchor="middle" textLength="20.42" lengthAdjust="spacingAndGlyphs">SER</text><text x="551.00" y="408.20" font-family="Liberation Sans" font-size="10.5" fill="#1E1E1E" stroke="#1E1E1E" stroke-width="0.1" text-anchor="middle">0.92</text><text x="551.00" y="421.30" font-family="Liberation Sans" font-size="10.50" fill="#1E1E1E" stroke="#1E1E1E" stroke-width="0.1" text-anchor="middle">(0.29,2.89)</text><text x="615.50" y="408.20" font-family="Liberation Sans" font-size="10.5" fill="#1E1E1E" stroke="#1E1E1E" stroke-width="0.1" text-anchor="middle">1.30</text><text x="615.50" y="421.30" font-family="Liberation Sans" font-size="10.50" fill="#1E1E1E" stroke="#1E1E1E" stroke-width="0.1" text-anchor="middle">(0.26,6.53)</text><text x="680.00" y="408.20" font-family="Liberation Sans" font-size="10.5" fill="#1E1E1E" stroke="#1E1E1E" stroke-width="0.1" text-anchor="middle">2.32</text><text x="680.00" y="421.30" font-family="Liberation Sans" font-size="10.50" fill="#1E1E1E" stroke="#1E1E1E" stroke-width="0.1" text-anchor="middle">(0.46,11.63)</text><text x="32.95" y="455.70" font-family="Liberation Sans" font-weight="bold" font-size="10.0" fill="#1E1E1E" stroke="#1E1E1E" stroke-width="0.3" text-anchor="middle" textLength="24.27" lengthAdjust="spacing">-6.54</text><text x="32.95" y="468.80" font-family="Liberation Sans" font-weight="bold" font-size="10.00" fill="#1E1E1E" stroke="#1E1E1E" stroke-width="0.3" text-anchor="middle" textLength="59.46" lengthAdjust="spacing">(-8.42,-4.65)</text><line x1="20.81" y1="457.15" x2="45.09" y2="457.15" stroke="#444" stroke-width="0.9"/><line x1="3.22" y1="470.55" x2="62.68" y2="470.55" stroke="#444" stroke-width="1.0"/><text x="97.62" y="455.70" font-family="Liberation Sans" font-weight="bold" font-size="10.0" fill="#1E1E1E" stroke="#1E1E1E" stroke-width="0.3" text-anchor="middle" textLength="24.27" lengthAdjust="spacing">-2.70</text><text x="97.62" y="468.80" font-family="Liberation Sans" font-weight="bold" font-size="10.00" fill="#1E1E1E" stroke="#1E1E1E" stroke-width="0.3" text-anchor="middle" textLength="55.76" lengthAdjust="spacing">(-3.46,1.93)</text><line x1="85.49" y1="457.15" x2="109.76" y2="457.15" stroke="#444" stroke-width="0.9"/><line x1="69.75" y1="470.55" x2="125.50" y2="470.55" stroke="#444" stroke-width="1.0"/><text x="162.18" y="455.70" font-family="Liberation Sans" font-weight="bold" font-size="10.0" fill="#1E1E1E" stroke="#1E1E1E" stroke-width="0.3" text-anchor="middle" textLength="24.27" lengthAdjust="spacing">-2.60</text><text x="162.18" y="468.80" font-family="Liberation Sans" font-weight="bold" font-size="10.00" fill="#1E1E1E" stroke="#1E1E1E" stroke-width="0.3" text-anchor="middle" textLength="59.46" lengthAdjust="spacing">(-3.35,-1.84)</text><line x1="150.04" y1="457.15" x2="174.31" y2="457.15" stroke="#444" stroke-width="0.9"/><line x1="132.45" y1="470.55" x2="191.90" y2="470.55" stroke="#444" stroke-width="1.0"/><text x="227.00" y="455.70" font-family="Liberation Sans" font-weight="bold" font-size="10.0" fill="#1E1E1E" stroke="#1E1E1E" stroke-width="0.3" text-anchor="middle" textLength="24.27" lengthAdjust="spacing">-1.49</text><text x="227.00" y="468.80" font-family="Liberation Sans" font-weight="bold" font-size="10.00" fill="#1E1E1E" stroke="#1E1E1E" stroke-width="0.3" text-anchor="middle" textLength="59.46" lengthAdjust="spacing">(-2.37,-0.62)</text><line x1="214.86" y1="457.15" x2="239.14" y2="457.15" stroke="#444" stroke-width="0.9"/><line x1="197.27" y1="470.55" x2="256.73" y2="470.55" stroke="#444" stroke-width="1.0"/><text x="291.95" y="455.70" font-family="Liberation Sans" font-weight="bold" font-size="10.0" fill="#1E1E1E" stroke="#1E1E1E" stroke-width="0.3" text-anchor="middle" textLength="24.27" lengthAdjust="spacing">-1.44</text><text x="291.95" y="468.80" font-family="Liberation Sans" font-weight="bold" font-size="10.00" fill="#1E1E1E" stroke="#1E1E1E" stroke-width="0.3" text-anchor="middle" textLength="59.46" lengthAdjust="spacing">(-2.43,-0.46)</text><line x1="279.81" y1="457.15" x2="304.09" y2="457.15" stroke="#444" stroke-width="0.9"/><line x1="262.22" y1="470.55" x2="321.68" y2="470.55" stroke="#444" stroke-width="1.0"/><text x="356.75" y="455.70" font-family="Liberation Sans" font-weight="bold" font-size="10.0" fill="#1E1E1E" stroke="#1E1E1E" stroke-width="0.3" text-anchor="middle" textLength="24.27" lengthAdjust="spacing">-1.22</text><text x="356.75" y="468.80" font-family="Liberation Sans" font-weight="bold" font-size="10.00" fill="#1E1E1E" stroke="#1E1E1E" stroke-width="0.3" text-anchor="middle" textLength="55.76" lengthAdjust="spacing">(-1.99,0.46)</text><line x1="344.61" y1="457.15" x2="368.89" y2="457.15" stroke="#444" stroke-width="0.9"/><line x1="328.87" y1="470.55" x2="384.63" y2="470.55" stroke="#444" stroke-width="1.0"/><text x="421.35" y="455.70" font-family="Liberation Sans" font-weight="bold" font-size="10.0" fill="#1E1E1E" stroke="#1E1E1E" stroke-width="0.3" text-anchor="middle" textLength="24.27" lengthAdjust="spacing">-0.59</text><text x="421.35" y="468.80" font-family="Liberation Sans" font-weight="bold" font-size="10.00" fill="#1E1E1E" stroke="#1E1E1E" stroke-width="0.3" text-anchor="middle" textLength="59.46" lengthAdjust="spacing">(-1.14,-0.04)</text><line x1="409.21" y1="457.15" x2="433.49" y2="457.15" stroke="#444" stroke-width="0.9"/><line x1="391.62" y1="470.55" x2="451.08" y2="470.55" stroke="#444" stroke-width="1.0"/><text x="486.05" y="455.70" font-family="Liberation Sans" font-size="10.5" fill="#1E1E1E" stroke="#1E1E1E" stroke-width="0.1" text-anchor="middle">-0.61</text><text x="486.05" y="468.80" font-family="Liberation Sans" font-size="10.50" fill="#1E1E1E" stroke="#1E1E1E" stroke-width="0.1" text-anchor="middle">(-1.47,0.25)</text><text x="551.00" y="462.10" font-family="Liberation Sans" font-weight="bold" font-size="12.2" fill="#EAF2FB" stroke="#EAF2FB" stroke-width="0.35" text-anchor="middle" textLength="22.77" lengthAdjust="spacingAndGlyphs">PBA</text><text x="615.50" y="455.70" font-family="Liberation Sans" font-size="10.5" fill="#1E1E1E" stroke="#1E1E1E" stroke-width="0.1" text-anchor="middle">1.42</text><text x="615.50" y="468.80" font-family="Liberation Sans" font-size="10.50" fill="#1E1E1E" stroke="#1E1E1E" stroke-width="0.1" text-anchor="middle">(0.46,4.40)</text><text x="680.00" y="455.70" font-family="Liberation Sans" font-size="10.5" fill="#1E1E1E" stroke="#1E1E1E" stroke-width="0.1" text-anchor="middle">2.52</text><text x="680.00" y="468.80" font-family="Liberation Sans" font-size="10.50" fill="#1E1E1E" stroke="#1E1E1E" stroke-width="0.1" text-anchor="middle">(0.81,7.84)</text><text x="32.95" y="503.20" font-family="Liberation Sans" font-weight="bold" font-size="10.0" fill="#1E1E1E" stroke="#1E1E1E" stroke-width="0.3" text-anchor="middle" textLength="24.27" lengthAdjust="spacing">-6.59</text><text x="32.95" y="516.30" font-family="Liberation Sans" font-weight="bold" font-size="10.00" fill="#1E1E1E" stroke="#1E1E1E" stroke-width="0.3" text-anchor="middle" textLength="59.46" lengthAdjust="spacing">(-8.53,-4.65)</text><line x1="20.81" y1="504.65" x2="45.09" y2="504.65" stroke="#444" stroke-width="0.9"/><line x1="3.22" y1="518.05" x2="62.68" y2="518.05" stroke="#444" stroke-width="1.0"/><text x="97.62" y="503.20" font-family="Liberation Sans" font-weight="bold" font-size="10.0" fill="#1E1E1E" stroke="#1E1E1E" stroke-width="0.3" text-anchor="middle" textLength="24.27" lengthAdjust="spacing">-2.75</text><text x="97.62" y="516.30" font-family="Liberation Sans" font-weight="bold" font-size="10.00" fill="#1E1E1E" stroke="#1E1E1E" stroke-width="0.3" text-anchor="middle" textLength="59.46" lengthAdjust="spacing">(-3.63,-1.86)</text><line x1="85.49" y1="504.65" x2="109.76" y2="504.65" stroke="#444" stroke-width="0.9"/><line x1="67.90" y1="518.05" x2="127.35" y2="518.05" stroke="#444" stroke-width="1.0"/><text x="162.18" y="503.20" font-family="Liberation Sans" font-weight="bold" font-size="10.0" fill="#1E1E1E" stroke="#1E1E1E" stroke-width="0.3" text-anchor="middle" textLength="24.27" lengthAdjust="spacing">-2.65</text><text x="162.18" y="516.30" font-family="Liberation Sans" font-weight="bold" font-size="10.00" fill="#1E1E1E" stroke="#1E1E1E" stroke-width="0.3" text-anchor="middle" textLength="59.46" lengthAdjust="spacing">(-3.52,-1.77)</text><line x1="150.04" y1="504.65" x2="174.31" y2="504.65" stroke="#444" stroke-width="0.9"/><line x1="132.45" y1="518.05" x2="191.90" y2="518.05" stroke="#444" stroke-width="1.0"/><text x="227.00" y="503.20" font-family="Liberation Sans" font-weight="bold" font-size="10.0" fill="#1E1E1E" stroke="#1E1E1E" stroke-width="0.3" text-anchor="middle" textLength="24.27" lengthAdjust="spacing">-1.54</text><text x="227.00" y="516.30" font-family="Liberation Sans" font-weight="bold" font-size="10.00" fill="#1E1E1E" stroke="#1E1E1E" stroke-width="0.3" text-anchor="middle" textLength="59.46" lengthAdjust="spacing">(-2.53,-0.56)</text><line x1="214.86" y1="504.65" x2="239.14" y2="504.65" stroke="#444" stroke-width="0.9"/><line x1="197.27" y1="518.05" x2="256.73" y2="518.05" stroke="#444" stroke-width="1.0"/><text x="291.95" y="503.20" font-family="Liberation Sans" font-weight="bold" font-size="10.0" fill="#1E1E1E" stroke="#1E1E1E" stroke-width="0.3" text-anchor="middle" textLength="24.27" lengthAdjust="spacing">-1.50</text><text x="291.95" y="516.30" font-family="Liberation Sans" font-weight="bold" font-size="10.00" fill="#1E1E1E" stroke="#1E1E1E" stroke-width="0.3" text-anchor="middle" textLength="59.46" lengthAdjust="spacing">(-2.58,-0.41)</text><line x1="279.81" y1="504.65" x2="304.09" y2="504.65" stroke="#444" stroke-width="0.9"/><line x1="262.22" y1="518.05" x2="321.68" y2="518.05" stroke="#444" stroke-width="1.0"/><text x="356.75" y="503.20" font-family="Liberation Sans" font-weight="bold" font-size="10.0" fill="#1E1E1E" stroke="#1E1E1E" stroke-width="0.3" text-anchor="middle" textLength="24.27" lengthAdjust="spacing">-1.28</text><text x="356.75" y="516.30" font-family="Liberation Sans" font-weight="bold" font-size="10.00" fill="#1E1E1E" stroke="#1E1E1E" stroke-width="0.3" text-anchor="middle" textLength="59.46" lengthAdjust="spacing">(-2.16,-0.39)</text><line x1="344.61" y1="504.65" x2="368.89" y2="504.65" stroke="#444" stroke-width="0.9"/><line x1="327.02" y1="518.05" x2="386.48" y2="518.05" stroke="#444" stroke-width="1.0"/><text x="421.35" y="503.20" font-family="Liberation Sans" font-size="10.5" fill="#1E1E1E" stroke="#1E1E1E" stroke-width="0.1" text-anchor="middle">-0.64</text><text x="421.35" y="516.30" font-family="Liberation Sans" font-size="10.50" fill="#1E1E1E" stroke="#1E1E1E" stroke-width="0.1" text-anchor="middle">(-1.35,0.06)</text><text x="486.05" y="503.20" font-family="Liberation Sans" font-weight="bold" font-size="10.0" fill="#1E1E1E" stroke="#1E1E1E" stroke-width="0.3" text-anchor="middle" textLength="24.27" lengthAdjust="spacing">-0.87</text><text x="486.05" y="516.30" font-family="Liberation Sans" font-weight="bold" font-size="10.00" fill="#1E1E1E" stroke="#1E1E1E" stroke-width="0.3" text-anchor="middle" textLength="59.46" lengthAdjust="spacing">(-1.49,-0.25)</text><line x1="473.91" y1="504.65" x2="498.19" y2="504.65" stroke="#444" stroke-width="0.9"/><line x1="456.32" y1="518.05" x2="515.78" y2="518.05" stroke="#444" stroke-width="1.0"/><text x="551.00" y="503.20" font-family="Liberation Sans" font-size="10.5" fill="#1E1E1E" stroke="#1E1E1E" stroke-width="0.1" text-anchor="middle">-0.51</text><text x="551.00" y="516.30" font-family="Liberation Sans" font-size="10.50" fill="#1E1E1E" stroke="#1E1E1E" stroke-width="0.1" text-anchor="middle">(-1.19,0.17)</text><text x="615.50" y="509.60" font-family="Liberation Sans" font-weight="bold" font-size="12.2" fill="#EAF2FB" stroke="#EAF2FB" stroke-width="0.35" text-anchor="middle" textLength="21.52" lengthAdjust="spacingAndGlyphs">NEF</text><text x="680.00" y="503.20" font-family="Liberation Sans" font-size="10.5" fill="#1E1E1E" stroke="#1E1E1E" stroke-width="0.1" text-anchor="middle">1.78</text><text x="680.00" y="516.30" font-family="Liberation Sans" font-size="10.50" fill="#1E1E1E" stroke="#1E1E1E" stroke-width="0.1" text-anchor="middle">(0.36,8.82)</text><text x="32.95" y="550.20" font-family="Liberation Sans" font-weight="bold" font-size="10.0" fill="#1E1E1E" stroke="#1E1E1E" stroke-width="0.3" text-anchor="middle" textLength="24.27" lengthAdjust="spacing">-7.04</text><text x="32.95" y="563.30" font-family="Liberation Sans" font-weight="bold" font-size="10.00" fill="#1E1E1E" stroke="#1E1E1E" stroke-width="0.3" text-anchor="middle" textLength="59.46" lengthAdjust="spacing">(-9.05,-5.04)</text><line x1="20.81" y1="551.65" x2="45.09" y2="551.65" stroke="#444" stroke-width="0.9"/><line x1="3.22" y1="565.05" x2="62.68" y2="565.05" stroke="#444" stroke-width="1.0"/><text x="97.62" y="550.20" font-family="Liberation Sans" font-weight="bold" font-size="10.0" fill="#1E1E1E" stroke="#1E1E1E" stroke-width="0.3" text-anchor="middle" textLength="24.27" lengthAdjust="spacing">-3.20</text><text x="97.62" y="563.30" font-family="Liberation Sans" font-weight="bold" font-size="10.00" fill="#1E1E1E" stroke="#1E1E1E" stroke-width="0.3" text-anchor="middle" textLength="59.46" lengthAdjust="spacing">(-4.22,-2.18)</text><line x1="85.49" y1="551.65" x2="109.76" y2="551.65" stroke="#444" stroke-width="0.9"/><line x1="67.90" y1="565.05" x2="127.35" y2="565.05" stroke="#444" stroke-width="1.0"/><text x="162.18" y="550.20" font-family="Liberation Sans" font-weight="bold" font-size="10.0" fill="#1E1E1E" stroke="#1E1E1E" stroke-width="0.3" text-anchor="middle" textLength="23.72" lengthAdjust="spacing">-3.11</text><text x="162.18" y="563.30" font-family="Liberation Sans" font-weight="bold" font-size="10.00" fill="#1E1E1E" stroke="#1E1E1E" stroke-width="0.3" text-anchor="middle" textLength="59.46" lengthAdjust="spacing">(-4.12,-2.09)</text><line x1="150.32" y1="551.65" x2="174.03" y2="551.65" stroke="#444" stroke-width="0.9"/><line x1="132.45" y1="565.05" x2="191.90" y2="565.05" stroke="#444" stroke-width="1.0"/><text x="227.00" y="550.20" font-family="Liberation Sans" font-weight="bold" font-size="10.0" fill="#1E1E1E" stroke="#1E1E1E" stroke-width="0.3" text-anchor="middle" textLength="24.27" lengthAdjust="spacing">-2.00</text><text x="227.00" y="563.30" font-family="Liberation Sans" font-weight="bold" font-size="10.00" fill="#1E1E1E" stroke="#1E1E1E" stroke-width="0.3" text-anchor="middle" textLength="58.91" lengthAdjust="spacing">(-3.11,-0.89)</text><line x1="214.86" y1="551.65" x2="239.14" y2="551.65" stroke="#444" stroke-width="0.9"/><line x1="197.55" y1="565.05" x2="256.45" y2="565.05" stroke="#444" stroke-width="1.0"/><text x="291.95" y="550.20" font-family="Liberation Sans" font-weight="bold" font-size="10.0" fill="#1E1E1E" stroke="#1E1E1E" stroke-width="0.3" text-anchor="middle" textLength="24.27" lengthAdjust="spacing">-1.95</text><text x="291.95" y="563.30" font-family="Liberation Sans" font-weight="bold" font-size="10.00" fill="#1E1E1E" stroke="#1E1E1E" stroke-width="0.3" text-anchor="middle" textLength="59.46" lengthAdjust="spacing">(-3.15,-0.75)</text><line x1="279.81" y1="551.65" x2="304.09" y2="551.65" stroke="#444" stroke-width="0.9"/><line x1="262.22" y1="565.05" x2="321.68" y2="565.05" stroke="#444" stroke-width="1.0"/><text x="356.75" y="550.20" font-family="Liberation Sans" font-weight="bold" font-size="10.0" fill="#1E1E1E" stroke="#1E1E1E" stroke-width="0.3" text-anchor="middle" textLength="24.27" lengthAdjust="spacing">-1.73</text><text x="356.75" y="563.30" font-family="Liberation Sans" font-weight="bold" font-size="10.00" fill="#1E1E1E" stroke="#1E1E1E" stroke-width="0.3" text-anchor="middle" textLength="59.46" lengthAdjust="spacing">(-2.49,-0.97)</text><line x1="344.61" y1="551.65" x2="368.89" y2="551.65" stroke="#444" stroke-width="0.9"/><line x1="327.02" y1="565.05" x2="386.48" y2="565.05" stroke="#444" stroke-width="1.0"/><text x="421.35" y="550.20" font-family="Liberation Sans" font-weight="bold" font-size="10.0" fill="#1E1E1E" stroke="#1E1E1E" stroke-width="0.3" text-anchor="middle" textLength="24.27" lengthAdjust="spacing">-1.10</text><text x="421.35" y="563.30" font-family="Liberation Sans" font-weight="bold" font-size="10.00" fill="#1E1E1E" stroke="#1E1E1E" stroke-width="0.3" text-anchor="middle" textLength="59.46" lengthAdjust="spacing">(-1.97,-0.23)</text><line x1="409.21" y1="551.65" x2="433.49" y2="551.65" stroke="#444" stroke-width="0.9"/><line x1="391.62" y1="565.05" x2="451.08" y2="565.05" stroke="#444" stroke-width="1.0"/><text x="486.05" y="550.20" font-family="Liberation Sans" font-weight="bold" font-size="10.0" fill="#1E1E1E" stroke="#1E1E1E" stroke-width="0.3" text-anchor="middle" textLength="24.27" lengthAdjust="spacing">-1.33</text><text x="486.05" y="563.30" font-family="Liberation Sans" font-weight="bold" font-size="10.00" fill="#1E1E1E" stroke="#1E1E1E" stroke-width="0.3" text-anchor="middle" textLength="59.46" lengthAdjust="spacing">(-2.14,-0.52)</text><line x1="473.91" y1="551.65" x2="498.19" y2="551.65" stroke="#444" stroke-width="0.9"/><line x1="456.32" y1="565.05" x2="515.78" y2="565.05" stroke="#444" stroke-width="1.0"/><text x="551.00" y="550.20" font-family="Liberation Sans" font-size="10.5" fill="#1E1E1E" stroke="#1E1E1E" stroke-width="0.1" text-anchor="middle">0.51</text><text x="551.00" y="563.30" font-family="Liberation Sans" font-size="10.50" fill="#1E1E1E" stroke="#1E1E1E" stroke-width="0.1" text-anchor="middle">(-1.18,0.17)</text><text x="615.50" y="550.20" font-family="Liberation Sans" font-size="10.5" fill="#1E1E1E" stroke="#1E1E1E" stroke-width="0.1" text-anchor="middle">-0.46</text><text x="615.50" y="563.30" font-family="Liberation Sans" font-size="10.50" fill="#1E1E1E" stroke="#1E1E1E" stroke-width="0.1" text-anchor="middle">(-1.27,0.35)</text><text x="680.00" y="556.60" font-family="Liberation Sans" font-weight="bold" font-size="12.2" fill="#EAF2FB" stroke="#EAF2FB" stroke-width="0.35" text-anchor="middle" textLength="20.57" lengthAdjust="spacingAndGlyphs">FLU</text></svg>
</body></html>
